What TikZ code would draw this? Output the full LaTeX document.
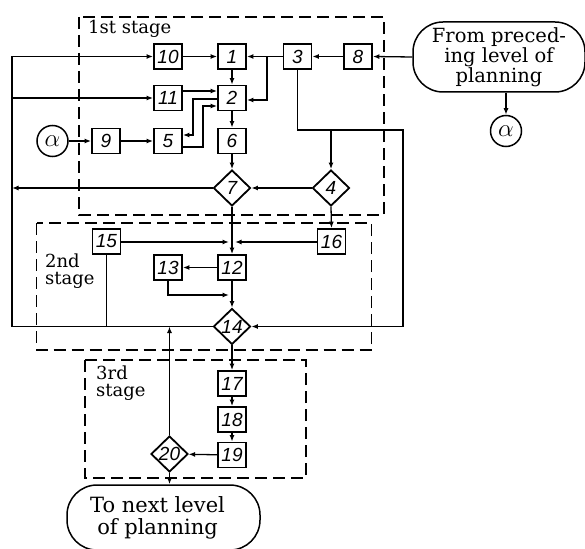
\documentclass[tikz,border=0pt]{standalone}
\usepackage{fontspec}
\setmainfont{DejaVu Serif}
\newfontfamily\digitfont{Liberation Sans}
\usetikzlibrary{arrows.meta,shapes.geometric}
\begin{document}
\begin{tikzpicture}[x=1pt,y=-1pt,
  box/.style={draw,line width=1.8pt,minimum width=28pt,minimum height=25pt,inner sep=0pt,
    font=\digitfont\itshape\fontsize{19}{19}\selectfont},
  dia/.style={draw,diamond,line width=1.8pt,minimum width=37pt,minimum height=36pt,inner sep=0pt,
    font=\digitfont\itshape\fontsize{19}{19}\selectfont},
  circ/.style={draw,circle,line width=1.5pt,minimum size=31pt,inner sep=0pt,font=\fontsize{24}{24}\selectfont},
  term/.style={draw,line width=1.5pt,rounded corners=30pt,inner sep=0pt,align=center},
  conn/.style={line width=1.3pt},
  arr/.style={conn,-{Latex[length=6.5pt,width=5pt]}},
  stage/.style={line width=1.2pt,dash pattern=on 12pt off 6pt},
  lbl/.style={inner sep=0pt,align=left,font=\fontsize{18}{17}\selectfont},
]
\useasboundingbox (0,0) rectangle (585,548);

% stage frames
\draw[stage] (79,17) rectangle (384,215);
\draw[stage] (36.7,223) rectangle (371.7,350);
\draw[stage] (85,360) rectangle (306,478);

% labels
\node[lbl,anchor=base west] (l1) at (88,34) {1st stage};
\node[lbl,anchor=north west] (l2) at (45,254) {2nd\\stage};
\node[lbl,anchor=north west] (l3) at (96,366) {3rd\\stage};

% nodes
\node[box] (b10) at (168,56.5) {10};
\node[box] (b1)  at (232,56.5) {1};
\node[box] (b3)  at (297.5,56.5) {3};
\node[box] (b8)  at (358,56.5) {8};
\node[box] (b11) at (168,98) {11};
\node[box] (b2)  at (232,98) {2};
\node[circ] (a1) at (52.5,141) {$\alpha$};
\node[box] (b9)  at (106,141) {9};
\node[box] (b5)  at (168,141) {5};
\node[box] (b6)  at (232,141) {6};
\node[dia] (d7)  at (232,188) {7};
\node[dia] (d4)  at (331,188) {4};
\node[box] (b15) at (106.5,241.5) {15};
\node[box] (b16) at (331.5,241.5) {16};
\node[box] (b13) at (168,267.5) {13};
\node[box] (b12) at (232,267.5) {12};
\node[dia] (d14) at (232,326.5) {14};
\node[box] (b17) at (232,383.5) {17};
\node[box] (b18) at (232,419.5) {18};
\node[box] (b19) at (232,455) {19};
\node[dia] (d20) at (169.5,454) {20};

\node[term,minimum width=172pt,minimum height=70pt,font=\fontsize{19.5}{15.5}\selectfont] (t1) at (499,57)
  {From preced-\\ing level of\\planning};
\node[circ] (a2) at (506,131) {$\alpha$};
\node[term,minimum width=193pt,minimum height=65pt,font=\fontsize{21}{22}\selectfont] (t2) at (163.5,517.5)
  {To next level\hspace*{12pt}\\of planning\hspace*{12pt}};

% helper coordinates
\coordinate (L1) at (12,56.5);
\coordinate (R2) at (403,130);
\coordinate (J31) at (267,56.5);
\coordinate (J) at (232,242);
\coordinate (K) at (232,295);

% connectors stage 1
\draw[arr] (t1.west) -- (b8.east);
\draw[arr] (a2 |- t1.south) -- (a2.north);
\draw[arr] (b8) -- (b3);
\draw[arr] (b3) -- (b1);
\draw[arr] (J31) |- ([yshift=-2pt]b2.east);
\draw[arr] (b10) -- (b1);
\draw[arr] (b1) -- (b2);
\draw[arr] (b2) -- (b6);
\draw[arr] (b6) -- (d7);
\draw[arr] ([yshift=7pt]b11.east) -- ([yshift=7pt]b2.west);
\draw[arr] ([yshift=-1pt]b2.west) -- ++(-24,0) |- ([yshift=6pt]b5.east);
\draw[arr] ([yshift=-6pt]b5.east) -- ++(20,0) |- ([yshift=-8pt]b2.west);
\draw[arr] (a1) -- (b9);
\draw[arr] (b9) -- (b5);
\draw[arr] (d4) -- (d7);
\draw[arr] (d7.west) -- (d7.west -| L1);

% feedback line on the left
\draw[arr] (d14.west) -| (L1) -- (b10.west);
\draw[arr] (L1 |- b11) -- (b11.west);

% line from 3 down the right
\draw[arr] (b3.south) |- (R2) |- (d14.east);
\draw[arr] (d4 |- R2) -- (d4.north);

% stage 2
\draw[arr] (d4.south) -- (b16.north);
\draw[arr,shorten >=3pt] (b15.east |- J) -- (J);
\draw[arr,shorten >=3pt] (b16.west |- J) -- (J);
\draw[arr] (d7.south) -- (b12.north);
\draw[arr] (b12) -- (b13);
\draw[arr,shorten >=3pt] (b13.south) |- (K);
\draw[arr] (b12) -- (d14);
\draw[conn] (b15.south) -- (b15.south |- d14);

% stage 3
\draw[arr] (d14) -- (b17);
\draw[arr] (b17) -- (b18);
\draw[arr] (b18) -- (b19);
\draw[arr] (b19) -- (d20);
\draw[arr] (d20.north) -- (d20.north |- d14);
\draw[arr] (d20.south) -- (d20.south |- t2.north);
\end{tikzpicture}
\end{document}
